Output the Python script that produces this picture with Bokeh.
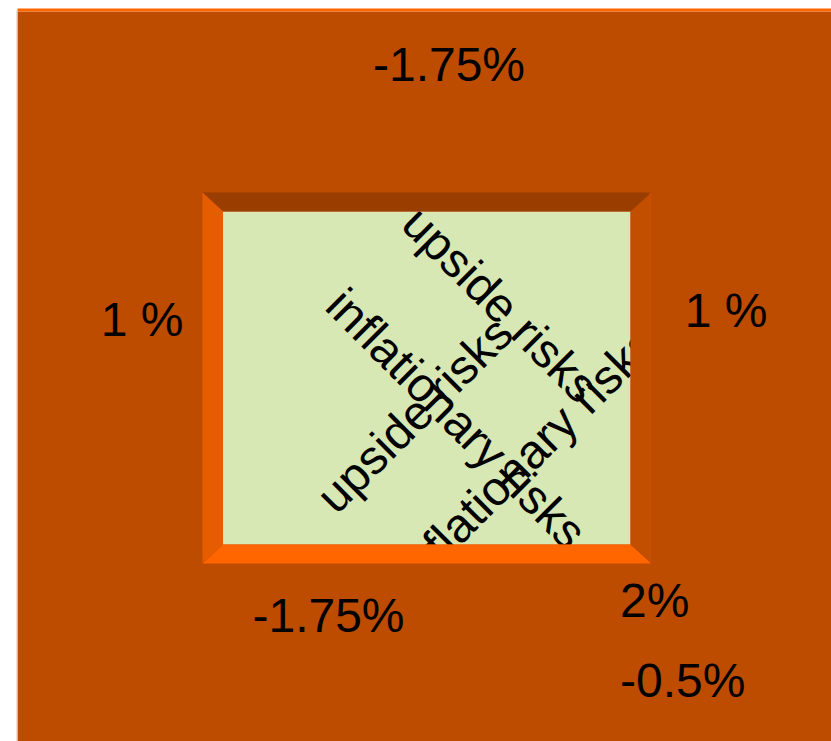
from bokeh.plotting import figure
from bokeh.models import Range1d, ColumnDataSource
from bokeh.core.properties import value
from bokeh.embed import file_html
from bokeh.resources import INLINE
import math

# ---- data (text content of the chart) ----
risk_labels = ["upside risks", "inflationary risks", "upside risks", "inflationary risks"]
risk_angles_deg = [-45, -45, 45, 45]
edge_labels = ["-1.75%", "1 %", "1 %", "-1.75%"]
side_labels = ["2%", "-0.5%"]

# ---- layout (canvas pixel coordinates, y downward) ----
W, H = 831, 741
FONT = value("Liberation Sans")

p = figure(width=W, height=H, x_range=Range1d(0, W), y_range=Range1d(H, 0),
           output_backend="svg", toolbar_location=None, min_border=0,
           x_axis_location=None, y_axis_location=None,
           border_fill_color="white", background_fill_color="white",
           outline_line_color=None)
p.grid.visible = False

# frame geometry
ox0, oy0, ox1, oy1 = 202, 192, 651, 563      # outer frame
ix0, iy0, ix1, iy1 = 222.5, 211, 630, 544    # inner (green) panel

# green panel
p.quad(left=[ix0], right=[ix1], top=[iy0], bottom=[iy1],
       fill_color="#D8E8B4", line_color=None)

# rotated risk labels inside the panel
rx = [500, 456, 414, 526]
ry = [304, 418, 414, 456]
src = ColumnDataSource(dict(x=rx, y=ry, text=risk_labels,
                            angle=[math.radians(a) for a in risk_angles_deg]))
p.text(x="x", y="y", text="text", angle="angle", source=src,
       text_font=FONT, text_font_size="48px", text_color="black",
       text_align="center", text_baseline="middle")

# brown background with a hole at the green panel (hides overflowing text)
bx0, by0 = 17, 11
p.multi_polygons(
    xs=[[[[bx0, W, W, bx0], [ix0, ix1, ix1, ix0]]]],
    ys=[[[[by0, by0, H, H], [iy0, iy0, iy1, iy1]]]],
    fill_color="#BD4B00", line_color=None)

# top orange strip and thin left edge line
p.quad(left=[bx0], right=[W], top=[8], bottom=[by0], fill_color="#FF6600", line_color=None)
p.quad(left=[bx0 - 1], right=[bx0], top=[by0 - 1], bottom=[H], fill_color="#E3C2A6", line_color=None)

# bevels
p.patch([ox0, ox1, ix1, ix0], [oy0, oy0, iy0, iy0], fill_color="#9A3D00", line_color=None)
p.patch([ox0, ox1, ix1, ix0], [oy1, oy1, iy1, iy1], fill_color="#FF6600", line_color=None)
p.patch([ox0, ix0, ix0, ox0], [oy0, iy0, iy1, oy1], fill_color="#E65C00", line_color=None)
p.patch([ox1, ix1, ix1, ox1], [oy0, iy0, iy1, oy1], fill_color="#C24E00", line_color=None)
p.segment(x0=[ox1 - 1.5], y0=[oy0], x1=[ox1 - 1.5], y1=[oy1], line_color="#CC5200", line_width=1)

# edge labels (top, left, right, bottom)
ex = [448.5, 141.5, 725.5, 328]
ey = [63.5, 318.5, 309.5, 614.5]
p.text(x=ex, y=ey, text=edge_labels, text_font=FONT, text_font_size="48px",
       text_color="black", text_align="center", text_baseline="alphabetic")

# lower-right labels
p.text(x=[619.5, 619.5], y=[599.5, 679.5], text=side_labels, text_font=FONT,
       text_font_size="48px", text_color="black", text_align="left",
       text_baseline="alphabetic")

open("out.html", "w").write(file_html(p, INLINE))
